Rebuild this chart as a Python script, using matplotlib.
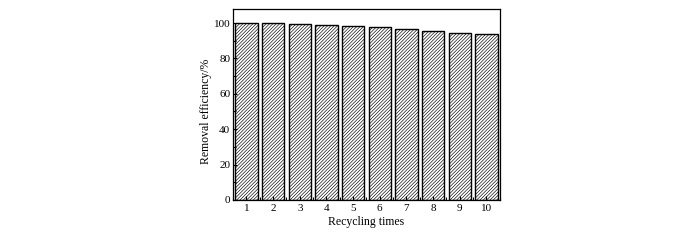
import matplotlib
matplotlib.use('Agg')
import matplotlib.pyplot as plt
from matplotlib.ticker import MultipleLocator

plt.rcParams['font.family'] = ['Liberation Serif', 'DejaVu Serif']
plt.rcParams['hatch.linewidth'] = 0.45
plt.rcParams['hatch.color'] = '#7f7f7f'

cycles = [1, 2, 3, 4, 5, 6, 7, 8, 9, 10]
removal = [100.0, 99.8, 99.5, 99.1, 98.5, 97.5, 96.6, 95.6, 94.4, 94.0]

fig = plt.figure(figsize=(7, 2.4), dpi=100)
ax = fig.add_axes([0.333, 0.167, 0.381, 0.796])

ax.bar(cycles, removal, width=0.84, color='white', edgecolor='black',
       linewidth=1.0, hatch='//////////')

ax.set_xlim(0.5, 10.5)
ax.set_ylim(0, 108)
ax.set_xticks(cycles)
ax.yaxis.set_major_locator(MultipleLocator(20))
ax.yaxis.set_minor_locator(MultipleLocator(10))
ax.xaxis.set_minor_locator(MultipleLocator(0.5))
ax.tick_params(which='both', direction='in', labelsize=8, width=0.8)
ax.tick_params(which='major', length=3)
ax.tick_params(which='minor', length=2)
ax.tick_params(axis='x', pad=3)
ax.tick_params(axis='y', pad=2)

for s in ax.spines.values():
    s.set_linewidth(0.9)

ax.set_xlabel('Recycling times', fontsize=8.5, labelpad=2)
ax.set_ylabel('Removal efficiency/%', fontsize=8.5)
ax.yaxis.set_label_coords(-0.079, 0.466)

fig.savefig('out.png', dpi=100)
